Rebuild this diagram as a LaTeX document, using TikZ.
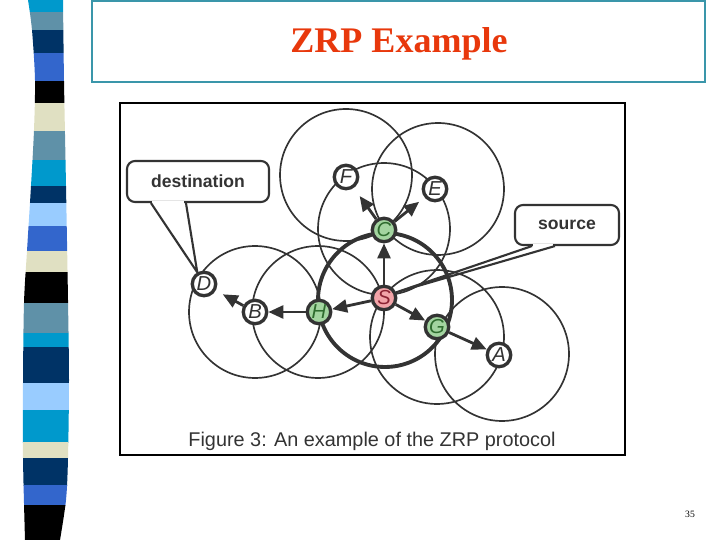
\documentclass[tikz,border=0pt]{standalone}
\usepackage{xcolor}
\usepackage{fontspec}
\setmainfont{Liberation Serif}
\setsansfont{Liberation Sans}
\usepackage{tikz}
\usetikzlibrary{arrows.meta,calc}
\definecolor{ink}{HTML}{333333}
\definecolor{titlered}{HTML}{E8380C}
\definecolor{titleblue}{HTML}{3A96AA}
\definecolor{zonegreen}{HTML}{A3D4A0}
\definecolor{zonetext}{HTML}{2E6B2E}
\definecolor{srcpink}{HTML}{F2A4A8}
\definecolor{srctext}{HTML}{8B2232}
\definecolor{barcyan}{HTML}{0099CC}
\definecolor{bargray}{HTML}{5F91A8}
\definecolor{barnavy}{HTML}{003366}
\definecolor{barroyal}{HTML}{3366CC}
\definecolor{barbeige}{HTML}{E0E0C2}
\definecolor{barsky}{HTML}{99CCFF}
\begin{document}
\begin{tikzpicture}[x=0.02cm, y=-0.02cm,
  station/.style={draw=ink, circle, line width=1.9pt, minimum size=0.47cm, inner sep=0pt, fill=white, text=ink, font=\sffamily\itshape\fontsize{11.5}{12}\selectfont},
  zonenode/.style={station, fill=zonegreen, text=zonetext},
  srcnode/.style={station, fill=srcpink, text=srctext},
  reach/.style={draw=ink, line width=0.95pt},
  hop/.style={draw=ink, line width=1.6pt, -{Triangle[length=0.3cm, width=0.26cm]}},
  tagbox/.style={draw=ink, line width=1.2pt, rounded corners=0.16cm, fill=white, font=\sffamily\bfseries\fontsize{10}{12}\selectfont, text=ink}]%
\useasboundingbox (0,0) rectangle (720,540);%
% striped bar on the left
\begin{scope}
\clip plot[smooth] coordinates {(28,0) (32,30) (35,80) (34,130) (31,186) (27,251) (24,303) (23,383) (23,458) (25,540)} -- plot[smooth] coordinates {(60,540) (66,500) (68,458) (69,380) (68,300) (66,186) (64,81) (63,0)} -- cycle;%
\foreach \ya/\yb/\tone in {0/12/barcyan, 12/30/bargray, 30/53/barnavy, 53/81/barroyal, 81/103/black, 103/131/barbeige, 131/160/bargray, 160/186/barcyan, 186/203/barnavy, 203/226/barsky, 226/251/barroyal, 251/272/barbeige, 272/303/black, 303/333/bargray, 333/347/barcyan, 347/383/barnavy, 383/410/barsky, 410/442/barcyan, 442/458/barbeige, 458/485/barnavy, 485/505/barroyal, 505/540/black}
  \fill[\tone] (0,\ya) rectangle (90,\yb+0.5);%
\end{scope}
% title
\draw[titleblue, line width=1pt] (92,1) rectangle (705,82);%
\node[text=titlered, font=\bfseries\fontsize{20.5}{24}\selectfont] (title) at (399,44) {ZRP Example};%
% figure frame
\draw[black, line width=0.6pt] (120,103) rectangle (625,455);%
% radio ranges
\draw[reach] (346,175) circle[radius=1.32cm];%
\draw[reach] (438,189) circle[radius=1.32cm];%
\draw[reach] (384,229) circle[radius=1.32cm];%
\draw[reach] (437,337) circle[radius=1.34cm];%
\draw[reach] (502,354) circle[radius=1.34cm];%
\draw[reach] (318,312) circle[radius=1.32cm];%
\draw[reach] (255,312) circle[radius=1.32cm];%
\draw[draw=ink, line width=2.2pt] (385,300) circle[radius=1.34cm];%
% nodes
\node[station] (F) at (346,177) {F};%
\node[station] (E) at (435,189) {E};%
\node[zonenode] (C) at (384,230) {C};%
\node[srcnode] (S) at (384,298) {S};%
\node[zonenode] (G) at (437,327) {G};%
\node[station] (A) at (499,355) {A};%
\node[zonenode] (H) at (319,312) {H};%
\node[station] (B) at (255,312) {B};%
\node[station] (D) at (204,284) {D};%
% hops
\draw[hop] (S) -- (C);%
\draw[hop, shorten >=0.2cm] (C) -- (F);%
\draw[hop, shorten >=0.14cm] (C) -- (E);%
\draw[hop] (S) -- (H);%
\draw[hop] (H) -- (B);%
\draw[hop, shorten >=0.16cm] (B) -- (D);%
\draw[hop] (S) -- (G);%
\draw[hop] (G) -- (A);%
% callouts
\node[tagbox, minimum width=2.84cm, minimum height=0.82cm] (dest) at (198,181.5) {destination};%
\draw[white, line width=1.9pt] ($(dest.south west)+(26.5,0)$) -- ($(dest.south west)+(58.5,0)$);%
\draw[ink, line width=1.2pt, line join=round] ($(dest.south west)+(25,0)$) -- (D.120) -- ($(dest.south west)+(60,0)$);%
\node[tagbox, minimum width=2.08cm, minimum height=0.8cm] (src) at (567,225) {source};%
\draw[white, line width=1.9pt] ($(src.south west)+(19.5,0)$) -- ($(src.south west)+(39.5,0)$);%
\draw[ink, line width=1.2pt, line join=round] ($(src.south west)+(18,0)$) -- (S.25) -- ($(src.south west)+(41,0)$);%
% caption and page number
\node[text=ink, font=\sffamily\fontsize{11.3}{13}\selectfont] (caption) at (372,441) {Figure 3: An example of the ZRP protocol};%
\node[font=\fontsize{5.5}{6}\selectfont] (pagenum) at (690,514) {35};%
\end{tikzpicture}
\end{document}
